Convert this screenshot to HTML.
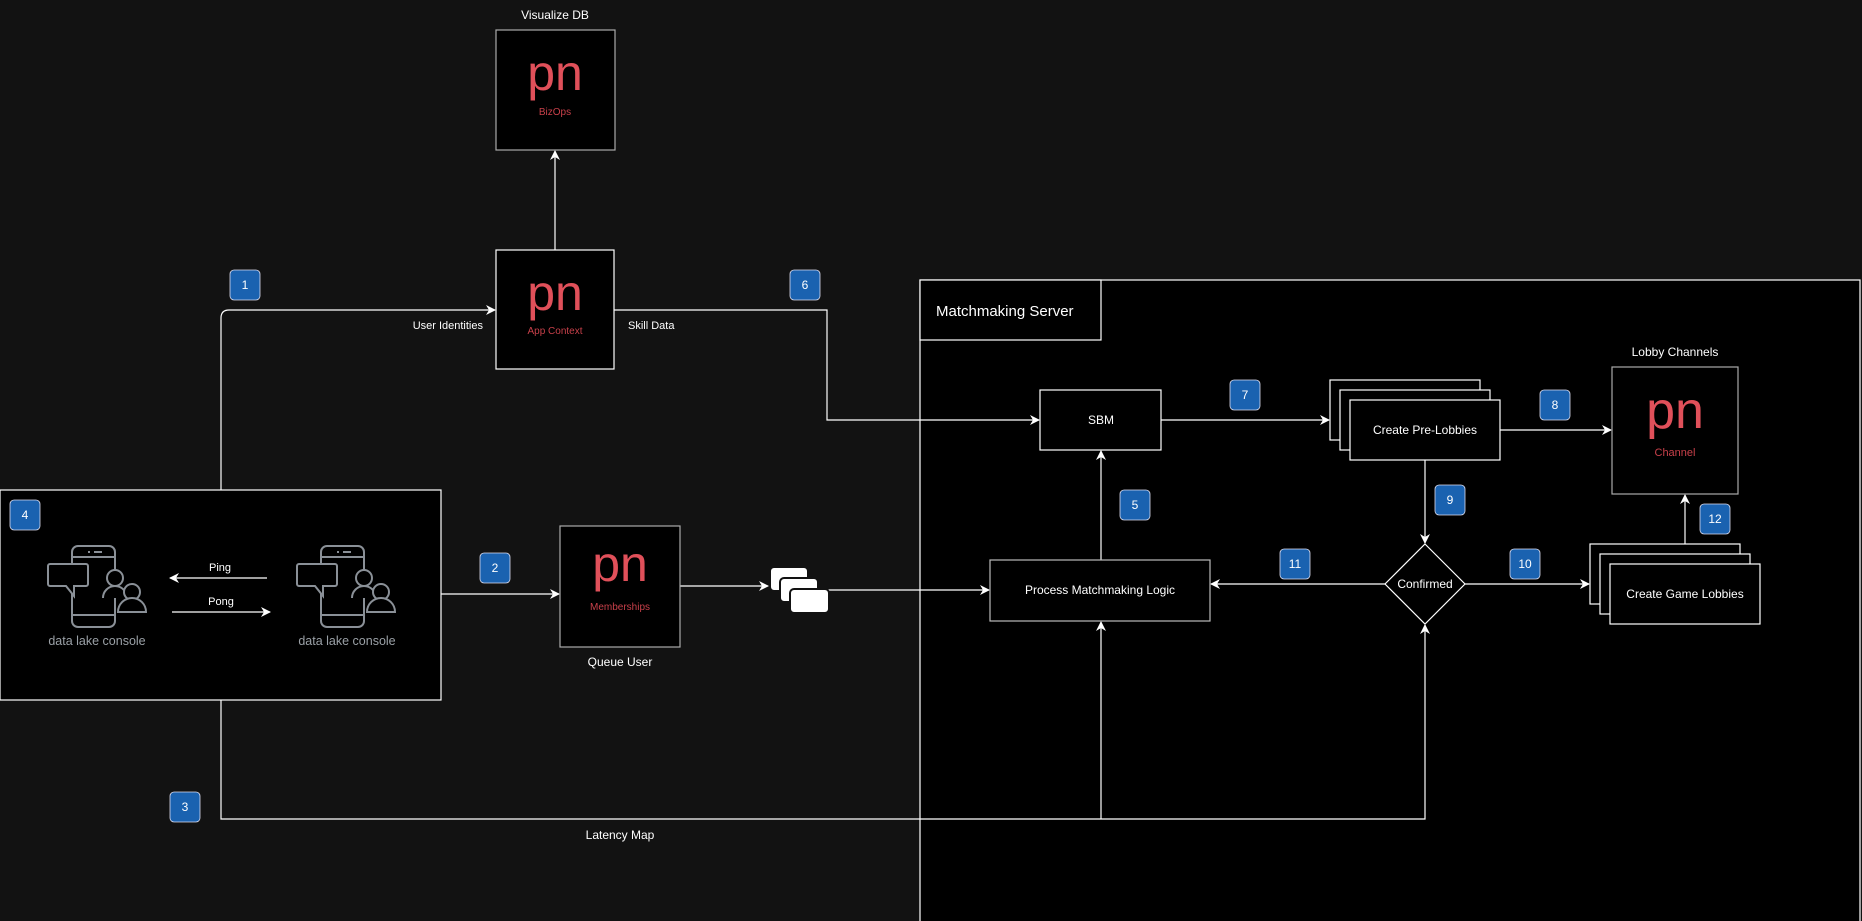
<!DOCTYPE html>
<html><head><meta charset="utf-8"><style>
html,body{margin:0;padding:0;background:#121212;}
svg{display:block;font-family:"Liberation Sans",sans-serif;}
</style></head><body>
<svg width="1862" height="921" viewBox="0 0 1862 921" xmlns="http://www.w3.org/2000/svg">
<defs>
<marker id="a" markerWidth="10" markerHeight="10" refX="9" refY="5" orient="auto" markerUnits="userSpaceOnUse">
<path d="M0,0 L10,5 L0,10 L3,5 Z" fill="#fff"/></marker>
<g id="icon" fill="none" stroke="#8a9097" stroke-width="2">
<rect x="24" y="0" width="43" height="81" rx="6"/>
<line x1="24" y1="11" x2="67" y2="11"/><line x1="24" y1="69" x2="67" y2="69"/>
<line x1="40" y1="6" x2="42" y2="6"/><line x1="46" y1="6" x2="54" y2="6"/>
<path d="M2,18 H38 a2,2 0 0 1 2,2 V38 a2,2 0 0 1 -2,2 H26 V50 L18,40 H2 a2,2 0 0 1 -2,-2 V20 a2,2 0 0 1 2,-2Z" fill="#000"/>
<circle cx="67" cy="32" r="8" fill="#000"/>
<path d="M55,52 a12,12 0 0 1 24,0" fill="#000"/>
<circle cx="84" cy="46" r="8" fill="#000"/>
<path d="M70,66 a14,14 0 0 1 28,0 Z" fill="#000"/>
</g>
</defs>

<!-- matchmaking server container -->
<rect x="920" y="280" width="940" height="650" fill="#000" stroke="#fff" stroke-width="1.2"/>
<rect x="920" y="280" width="181" height="60" fill="#000" stroke="#fff" stroke-width="1.2"/>
<text x="936" y="316" fill="#fff" font-size="15">Matchmaking Server</text>

<!-- connectors -->
<g stroke="#fff" stroke-width="1.2" fill="none">
<path d="M555,250 V151" marker-end="url(#a)"/>
<path d="M221,490 V318 Q221,310 229,310 H495" marker-end="url(#a)"/>
<path d="M614,310 H827 V420 H1039" marker-end="url(#a)"/>
<path d="M1161,420 H1329" marker-end="url(#a)"/>
<path d="M1500,430 H1611" marker-end="url(#a)"/>
<path d="M1101,560 V451" marker-end="url(#a)"/>
<path d="M1425,460 V543" marker-end="url(#a)"/>
<path d="M1385,584 H1211" marker-end="url(#a)"/>
<path d="M1465,584 H1589" marker-end="url(#a)"/>
<path d="M1685,544 V495" marker-end="url(#a)"/>
<path d="M441,594 H559" marker-end="url(#a)"/>
<path d="M680,586 H768" marker-end="url(#a)"/>
<path d="M828,590 H989" marker-end="url(#a)"/>
<path d="M221,700 V819 H1425 V625" marker-end="url(#a)"/>
<path d="M1101,819 V622" marker-end="url(#a)"/>
</g>

<!-- box 4 -->
<rect x="0" y="490" width="441" height="210" fill="#000" stroke="#fff" stroke-width="1.2"/>
<use href="#icon" x="48" y="546"/>
<use href="#icon" x="297" y="546"/>
<text x="97" y="645" fill="#9aa0a6" font-size="12.5" text-anchor="middle">data lake console</text>
<text x="347" y="645" fill="#9aa0a6" font-size="12.5" text-anchor="middle">data lake console</text>
<text x="220" y="571" fill="#fff" font-size="11" text-anchor="middle">Ping</text>
<text x="221" y="605" fill="#fff" font-size="11" text-anchor="middle">Pong</text>
<g stroke="#fff" stroke-width="1.2" fill="none">
<path d="M267,578 H170" marker-end="url(#a)"/>
<path d="M172,612 H270" marker-end="url(#a)"/>
</g>

<!-- PN boxes -->
<g font-size="12" fill="#fff" text-anchor="middle">
<text x="555" y="19">Visualize DB</text>
<text x="1675" y="356">Lobby Channels</text>
<text x="620" y="666">Queue User</text>
<text x="620" y="839">Latency Map</text>
</g>
<text x="483" y="329" fill="#fff" font-size="11" text-anchor="end">User Identities</text>
<text x="628" y="329" fill="#fff" font-size="11">Skill Data</text>

<g>
<rect x="496" y="30" width="119" height="120" fill="#000" stroke="#aaa" stroke-width="1.2"/>
<text x="555" y="90" fill="#e0505a" font-size="50" text-anchor="middle">pn</text>
<text x="555" y="115" fill="#c8404a" font-size="10" text-anchor="middle">BizOps</text>

<rect x="496" y="250" width="118" height="119" fill="#000" stroke="#fff" stroke-width="1.2"/>
<text x="555" y="310" fill="#e0505a" font-size="50" text-anchor="middle">pn</text>
<text x="555" y="334" fill="#c8404a" font-size="10" text-anchor="middle">App Context</text>

<rect x="560" y="526" width="120" height="121" fill="#000" stroke="#aaa" stroke-width="1.2"/>
<text x="620" y="581" fill="#e0505a" font-size="50" text-anchor="middle">pn</text>
<text x="620" y="610" fill="#c8404a" font-size="10" text-anchor="middle">Memberships</text>

<rect x="1612" y="367" width="126" height="127" fill="#000" stroke="#aaa" stroke-width="1.2"/>
<text x="1675" y="428" fill="#e0505a" font-size="52" text-anchor="middle">pn</text>
<text x="1675" y="456" fill="#c8404a" font-size="11" text-anchor="middle">Channel</text>
</g>

<!-- queue icon -->
<g fill="#fff" stroke="#121212" stroke-width="2">
<rect x="770" y="567" width="38" height="24" rx="4"/>
<rect x="780" y="578" width="38" height="24" rx="4"/>
<rect x="790" y="589" width="39" height="24" rx="4"/>
</g>

<!-- process boxes -->
<g fill="#000" stroke="#fff" stroke-width="1.2">
<rect x="1040" y="390" width="121" height="60"/>
<rect x="990" y="560" width="220" height="61" stroke="#bbb"/>
<rect x="1330" y="380" width="150" height="60"/>
<rect x="1340" y="390" width="150" height="60"/>
<rect x="1350" y="400" width="150" height="60"/>
<rect x="1590" y="544" width="150" height="60"/>
<rect x="1600" y="554" width="150" height="60"/>
<rect x="1610" y="564" width="150" height="60"/>
<path d="M1425,544 L1465,584 L1425,624 L1385,584 Z"/>
</g>
<g fill="#fff" font-size="12" text-anchor="middle">
<text x="1101" y="424">SBM</text>
<text x="1100" y="594">Process Matchmaking Logic</text>
<text x="1425" y="434">Create Pre-Lobbies</text>
<text x="1685" y="598">Create Game Lobbies</text>
<text x="1425" y="588">Confirmed</text>
</g>

<!-- badges -->
<g fill="#1a62b0" stroke="#dde" stroke-width="0.8">
<rect x="230" y="270" width="30" height="30" rx="4"/>
<rect x="480" y="553" width="30" height="30" rx="4"/>
<rect x="170" y="792" width="30" height="30" rx="4"/>
<rect x="10" y="500" width="30" height="30" rx="4"/>
<rect x="1120" y="490" width="30" height="30" rx="4"/>
<rect x="790" y="270" width="30" height="30" rx="4"/>
<rect x="1230" y="380" width="30" height="30" rx="4"/>
<rect x="1540" y="390" width="30" height="30" rx="4"/>
<rect x="1435" y="485" width="30" height="30" rx="4"/>
<rect x="1510" y="549" width="30" height="30" rx="4"/>
<rect x="1280" y="549" width="30" height="30" rx="4"/>
<rect x="1700" y="504" width="30" height="30" rx="4"/>
</g>
<g fill="#fff" font-size="12" text-anchor="middle">
<text x="245" y="289">1</text>
<text x="495" y="572">2</text>
<text x="185" y="811">3</text>
<text x="25" y="519">4</text>
<text x="1135" y="509">5</text>
<text x="805" y="289">6</text>
<text x="1245" y="399">7</text>
<text x="1555" y="409">8</text>
<text x="1450" y="504">9</text>
<text x="1525" y="568">10</text>
<text x="1295" y="568">11</text>
<text x="1715" y="523">12</text>
</g>
</svg>
</body></html>
